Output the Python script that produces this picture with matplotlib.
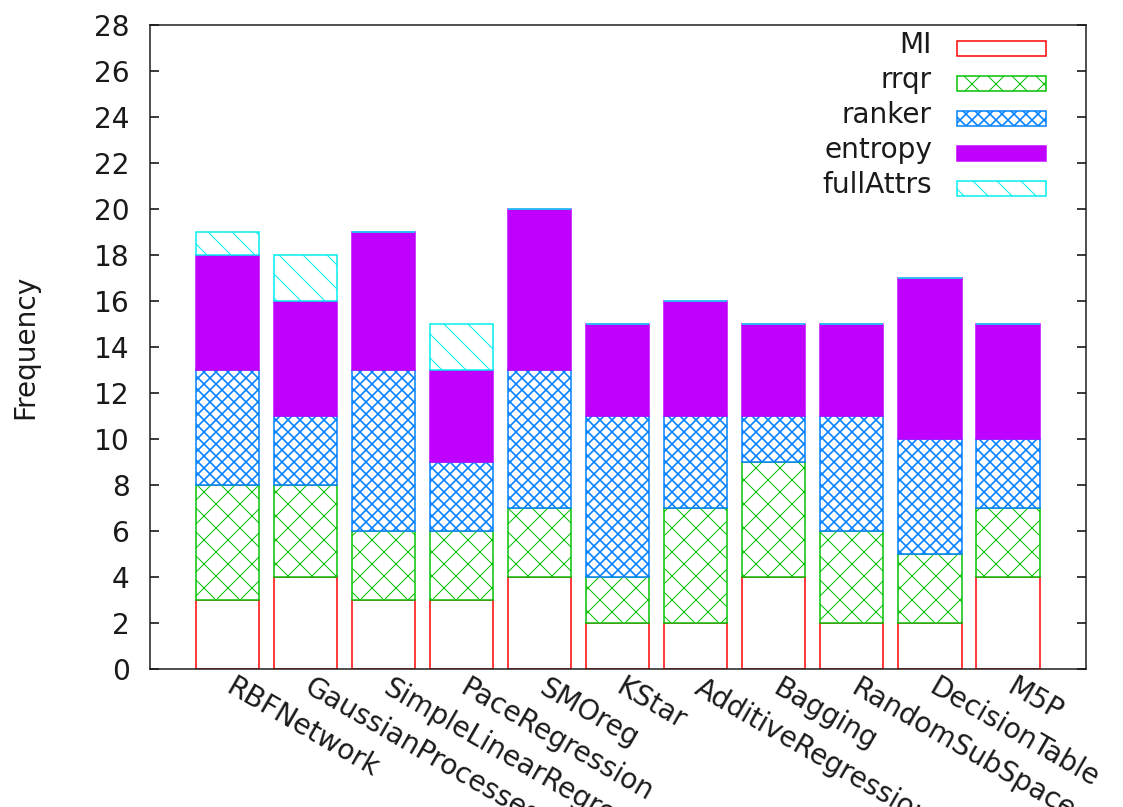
import numpy as np
import matplotlib
matplotlib.use("Agg")
import matplotlib.pyplot as plt
from matplotlib.patches import Rectangle
from matplotlib.transforms import ScaledTranslation

# classifiers along x
methods = ["RBFNetwork", "GaussianProcesses", "SimpleLinearRegression", "PaceRegression",
           "SMOreg", "KStar", "AdditiveRegression", "Bagging", "RandomSubSpace",
           "DecisionTable", "M5P"]

# stacked counts per selection method
mi = [3, 4, 3, 3, 4, 2, 2, 4, 2, 2, 4]
rrqr = [5, 4, 3, 3, 3, 2, 5, 5, 4, 3, 3]
ranker = [5, 3, 7, 3, 6, 7, 4, 2, 5, 5, 3]
entropy = [5, 5, 6, 4, 7, 4, 5, 4, 4, 7, 5]
full_attrs = [1, 2, 0, 2, 0, 0, 0, 0, 0, 0, 0]

series = [("MI", mi), ("rrqr", rrqr), ("ranker", ranker),
          ("entropy", entropy), ("fullAttrs", full_attrs)]

# gnuplot-like fill styles: (face, edge, hatch, hatch width)
styles = {
    "MI":        ("white",   "#ff0000", None, 1.0),
    "rrqr":      ("white",   "#00c000", "x", 1.0),
    "ranker":    ("white",   "#0080ff", "xx", 1.6),
    "entropy":   ("#c000ff", "#c000ff", None, 1.0),
    "fullAttrs": ("white",   "#00eeee", "\\", 1.0),
}

W, H, DPI = 1123, 807, 72           # dpi 72 -> 1pt == 1px
plt.rcParams["font.family"] = "DejaVu Sans"
TXT = "#1a1a1a"

fig = plt.figure(figsize=(W / DPI, H / DPI), dpi=DPI)
ax = fig.add_axes([149.5 / W, 1 - 669.3 / H, 936.5 / W, 644.3 / H])

x = np.arange(len(methods))
bottom = np.zeros(len(methods))
for name, vals in series:
    fc, ec, hatch, hlw = styles[name]
    with plt.rc_context({"hatch.linewidth": hlw}):
        ax.bar(x, vals, width=0.81, bottom=bottom, color=fc, edgecolor=ec,
               hatch=hatch, linewidth=1.5, zorder=2)
    bottom += np.array(vals)

ax.set_xlim(-1, 11)
ax.set_ylim(0, 28)
ax.set_yticks(np.arange(0, 29, 2))
ax.set_xticks(x)
ax.set_xticklabels([])
ax.tick_params(axis="x", length=0)
ax.tick_params(axis="y", direction="in", length=9, width=1.5, right=True,
               labelsize=28, labelcolor=TXT, pad=20)
for sp in ax.spines.values():
    sp.set_linewidth(1.5)
    sp.set_color(TXT)

# rotated category names, starting just below each bar centre
lab_tr = ax.get_xaxis_transform() + ScaledTranslation(8 / DPI, -4 / DPI, fig.dpi_scale_trans)
for xi, m in zip(x, methods):
    ax.text(xi, 0, m, transform=lab_tr, rotation=-30, ha="left", va="top",
            rotation_mode="anchor", fontsize=28, color=TXT, clip_on=False)

fig.text(25 / W, 1 - 347 / H, "Frequency", rotation=90, ha="center",
         va="center", fontsize=28, color=TXT)

# key: label text right-aligned, swatch to its right
box_x0, box_x1 = (957 - 149.5) / 936.5, (1046 - 149.5) / 936.5
box_h = 15 / 644.3
for i, (name, _) in enumerate(series):
    fc, ec, hatch, hlw = styles[name]
    yc = (669.3 - (48.5 + 35 * i)) / 644.3
    with plt.rc_context({"hatch.linewidth": hlw}):
        ax.add_patch(Rectangle((box_x0, yc - box_h / 2), box_x1 - box_x0, box_h,
                               transform=ax.transAxes, facecolor=fc, edgecolor=ec,
                               hatch=hatch, linewidth=1.5, zorder=3))
    ax.text((932 - 149.5) / 936.5, yc + 3 / 644.3, name, transform=ax.transAxes,
            ha="right", va="center", fontsize=28, color=TXT)

fig.savefig("out.png", dpi=DPI, facecolor="white")
